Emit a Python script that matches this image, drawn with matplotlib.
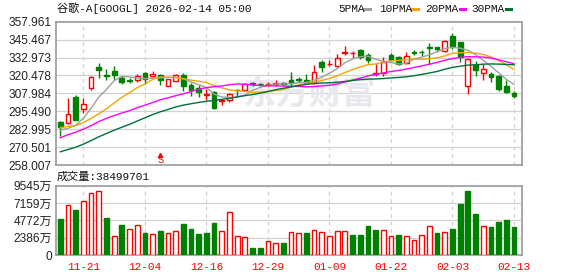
import numpy as np
import pandas as pd
import matplotlib
matplotlib.use('Agg')
import matplotlib.pyplot as plt
from matplotlib.lines import Line2D
from matplotlib.patches import Rectangle

# ---------------- data ----------------
dates = ['11-18', '11-19', '11-20', '11-21', '11-24', '11-25', '11-26', '11-28',
         '12-01', '12-02', '12-03', '12-04', '12-05', '12-08', '12-09', '12-10',
         '12-11', '12-12', '12-15', '12-16', '12-17', '12-18', '12-19', '12-22',
         '12-23', '12-24', '12-26', '12-29', '12-30', '12-31', '01-02', '01-05',
         '01-06', '01-07', '01-08', '01-09', '01-12', '01-13', '01-14', '01-15',
         '01-16', '01-20', '01-21', '01-22', '01-23', '01-26', '01-27', '01-28',
         '01-29', '01-30', '02-02', '02-03', '02-04', '02-05', '02-06', '02-09',
         '02-10', '02-11', '02-12', '02-13']

open_ = [288.3, 287.6, 305.4, 296.8, 311.8, 326.6, 320.9, 323.9, 318.5, 317.1,
         317.1, 322.2, 320.1, 320.8, 313.4, 316.7, 321.0, 313.9, 311.8, 307.0,
         308.6, 302.9, 303.05, 310.6, 310.4, 315.1, 314.5, 314.0, 314.2, 314.9,
         317.5, 317.8, 317.1, 315.5, 330.05, 328.4, 327.3, 336.2, 335.8, 338.4,
         334.9, 321.3, 322.2, 334.9, 333.3, 329.1, 336.7, 336.8, 340.6, 340.2,
         337.2, 348.0, 344.0, 312.96, 327.9, 322.1, 321.7, 319.9, 312.8, 308.5]
high = [289.0, 304.4, 306.7, 304.4, 319.9, 329.4, 325.2, 327.3, 319.9, 318.7,
        321.7, 322.9, 323.9, 321.5, 318.3, 321.5, 322.2, 315.0, 313.7, 310.9,
        309.3, 303.9, 308.1, 311.1, 315.5, 315.8, 315.5, 315.8, 317.4, 315.7,
        323.2, 319.4, 321.7, 327.5, 331.4, 331.4, 335.4, 341.1, 337.2, 338.6,
        336.05, 328.5, 333.3, 336.05, 334.2, 336.5, 338.4, 338.4, 343.4, 340.6,
        345.3, 350.3, 344.0, 332.5, 330.7, 328.4, 322.6, 321.1, 317.6, 309.4]
low = [278.4, 286.9, 289.2, 294.1, 310.4, 318.7, 317.4, 317.4, 314.6, 315.0,
       315.7, 314.8, 319.6, 314.1, 313.0, 316.4, 309.5, 306.05, 305.4, 303.5,
       297.0, 299.8, 302.1, 306.05, 309.9, 313.2, 313.3, 312.9, 313.4, 313.4,
       312.6, 315.9, 314.2, 314.6, 322.6, 326.8, 326.1, 334.9, 332.3, 331.9,
       329.1, 320.0, 319.9, 330.3, 327.97, 328.7, 334.7, 334.2, 328.7, 336.5,
       336.5, 338.9, 329.7, 307.2, 320.2, 317.6, 316.0, 309.8, 308.4, 304.7]
close = [284.6, 293.4, 289.7, 300.3, 319.2, 324.05, 320.1, 320.5, 315.7, 316.7,
         320.1, 318.3, 321.7, 317.4, 317.9, 320.8, 313.0, 310.0, 308.8, 307.5,
         297.7, 303.3, 307.7, 310.2, 314.6, 314.4, 314.2, 314.5, 315.1, 314.5,
         315.5, 317.2, 315.5, 322.6, 326.1, 328.7, 332.8, 336.5, 336.05, 333.3,
         330.95, 322.0, 329.6, 331.0, 328.7, 333.7, 336.3, 336.5, 339.3, 339.0,
         344.8, 340.7, 333.4, 332.2, 324.0, 325.1, 319.2, 311.3, 309.2, 306.4]

# closes of the 29 sessions before the window, needed for the moving averages
prior_close = [244.6, 241.5, 236.6, 244.2, 245.5, 251.0, 251.5, 253.3, 256.6, 250.5,
               251.7, 253.1, 259.9, 269.3, 267.5, 274.6, 281.5, 281.2, 283.7, 277.5,
               284.3, 284.8, 278.8, 290.1, 291.3, 286.7, 278.6, 276.4, 285.0]

# volume in 万 shares
volume = [4956, 6837, 6194, 7433, 8534, 8810, 5093, 2615, 4130, 3579,
          4130, 3028, 2891, 3304, 3028, 3304, 4267, 3579, 2891, 3028,
          4405, 3304, 5919, 2615, 2478, 964, 964, 1927, 1652, 1652,
          3166, 3028, 3028, 3441, 3166, 2615, 3304, 3304, 2753, 2753,
          3992, 3441, 3441, 2615, 2753, 2615, 2065, 2753, 3992, 3028,
          3166, 3579, 7020, 8810, 5644, 3992, 3854, 4543, 4818, 3849.9701]

price_ticks = [258.007, 270.501, 282.995, 295.490, 307.984,
               320.478, 332.973, 345.467, 357.961]
vol_ticks = [0, 2386, 4772, 7159, 9545]
date_labels = ['11-21', '12-04', '12-16', '12-29', '01-09', '01-22', '02-03', '02-13']
ma_windows = [5, 10, 20, 30]
ma_names = ['5PMA', '10PMA', '20PMA', '30PMA']
event_date = '12-08'

# ---------------- style ----------------
RED = '#ff0000'
GREEN = '#008000'
ma_colors = ['#a0a0a0', '#f5a500', '#ff00ff', '#00703a']
FRAME = '#9a9a9a'
GRID = '#d2d2d2'
mono = ['Liberation Mono', 'Noto Sans CJK SC']
sans = ['Liberation Sans', 'Noto Sans CJK SC']

W, H = 578, 276
fig = plt.figure(figsize=(W / 100, H / 100), dpi=100)


def fx(px):
    return px / W


def fy(py):
    return 1 - py / H


ax = fig.add_axes([fx(56), fy(165), fx(522.3) - fx(56), fy(21.7) - fy(165)])
axv = fig.add_axes([fx(56), fy(255), fx(522.3) - fx(56), fy(185.7) - fy(255)])

n = len(close)
x = np.arange(n)
xlim = (-0.56, 60.08)
tick_pos = [dates.index(d) for d in date_labels]

for a in (ax, axv):
    a.set_xlim(*xlim)
    for s in a.spines.values():
        s.set_color(FRAME)
        s.set_linewidth(1.2)
    a.tick_params(length=0, pad=3)
    for p in tick_pos:
        a.axvline(p, color=GRID, lw=0.9, ls=(0, (3, 3)), zorder=0)

# price panel
ax.set_ylim(price_ticks[0], price_ticks[-1])
ax.set_yticks(price_ticks)
ax.set_yticklabels(['%.3f' % t for t in price_ticks], family=sans, fontsize=8.6, color='#222222')
ax.set_xticks([])
for t in price_ticks[1:-1]:
    ax.axhline(t, color=GRID, lw=0.9, zorder=0)

# watermark
ax.text(32.3, 306.5, '东方财富', family=['Noto Sans CJK SC'], fontsize=24, fontweight='bold',
        color='#e8e8ee', ha='center', va='center', zorder=0.5)

w = 0.62
for i in x:
    o, h, l, c = open_[i], high[i], low[i], close[i]
    up = c >= o
    col = RED if up else GREEN
    ax.vlines(i, l, h, color=col, lw=1, zorder=2)
    bottom = min(o, c)
    height = max(abs(c - o), 0.3)
    ax.add_patch(Rectangle((i - w / 2, bottom), w, height,
                           facecolor='white' if up else GREEN,
                           edgecolor=col, lw=1, zorder=3))

all_close = pd.Series(prior_close + close)
for win, colr in zip(ma_windows, ma_colors):
    ma = all_close.rolling(win).mean().iloc[len(prior_close):].values
    ax.plot(x, ma, color=colr, lw=1, zorder=4)

# event marker
ev = dates.index(event_date)
ax.plot(ev, 265.3, marker='^', color=RED, ms=3, zorder=5)
ax.text(ev, 261.6, 'S', color=RED, family=mono, fontsize=7.5, ha='center', va='center', zorder=5)

# volume panel
vol_up = [close[0] >= open_[0]] + [close[i] >= close[i - 1] for i in range(1, n)]
axv.set_ylim(0, vol_ticks[-1])
axv.set_yticks(vol_ticks)
axv.set_yticklabels(['0'] + ['%d万' % t for t in vol_ticks[1:]], family=sans,
                    fontsize=8.6, color='#222222')
for t in vol_ticks[1:-1]:
    axv.axhline(t, color=GRID, lw=0.9, zorder=0)
axv.bar(x, volume, width=w,
        color=['white' if u else GREEN for u in vol_up],
        edgecolor=[RED if u else GREEN for u in vol_up], lw=1, zorder=3)
axv.set_xticks(tick_pos)
axv.set_xticklabels(date_labels, family=mono, fontsize=8, color=RED)
axv.tick_params(axis='x', pad=5)

# header texts
fig.text(fx(57), fy(8.5), '谷歌-A[GOOGL] 2026-02-14 05:00', family=mono, fontsize=8,
         color='#111111', va='center', ha='left')
fig.text(fx(57), fy(177), '成交量:%d' % round(volume[-1] * 10000), family=mono, fontsize=8,
         color='#111111', va='center', ha='left')

leg_x = [338.5, 379.5, 425, 471]
dash_x = [364.5, 412, 459.5, 505.5]
for name, colr, lx, dx in zip(ma_names, ma_colors, leg_x, dash_x):
    fig.text(fx(lx), fy(8.5), name, family=mono, fontsize=8, color='#111111',
             va='center', ha='left')
    fig.add_artist(Line2D([fx(dx), fx(dx + 5.5)], [fy(8.5), fy(8.5)], color=colr, lw=2.2))

fig.savefig('out.png', dpi=100)
